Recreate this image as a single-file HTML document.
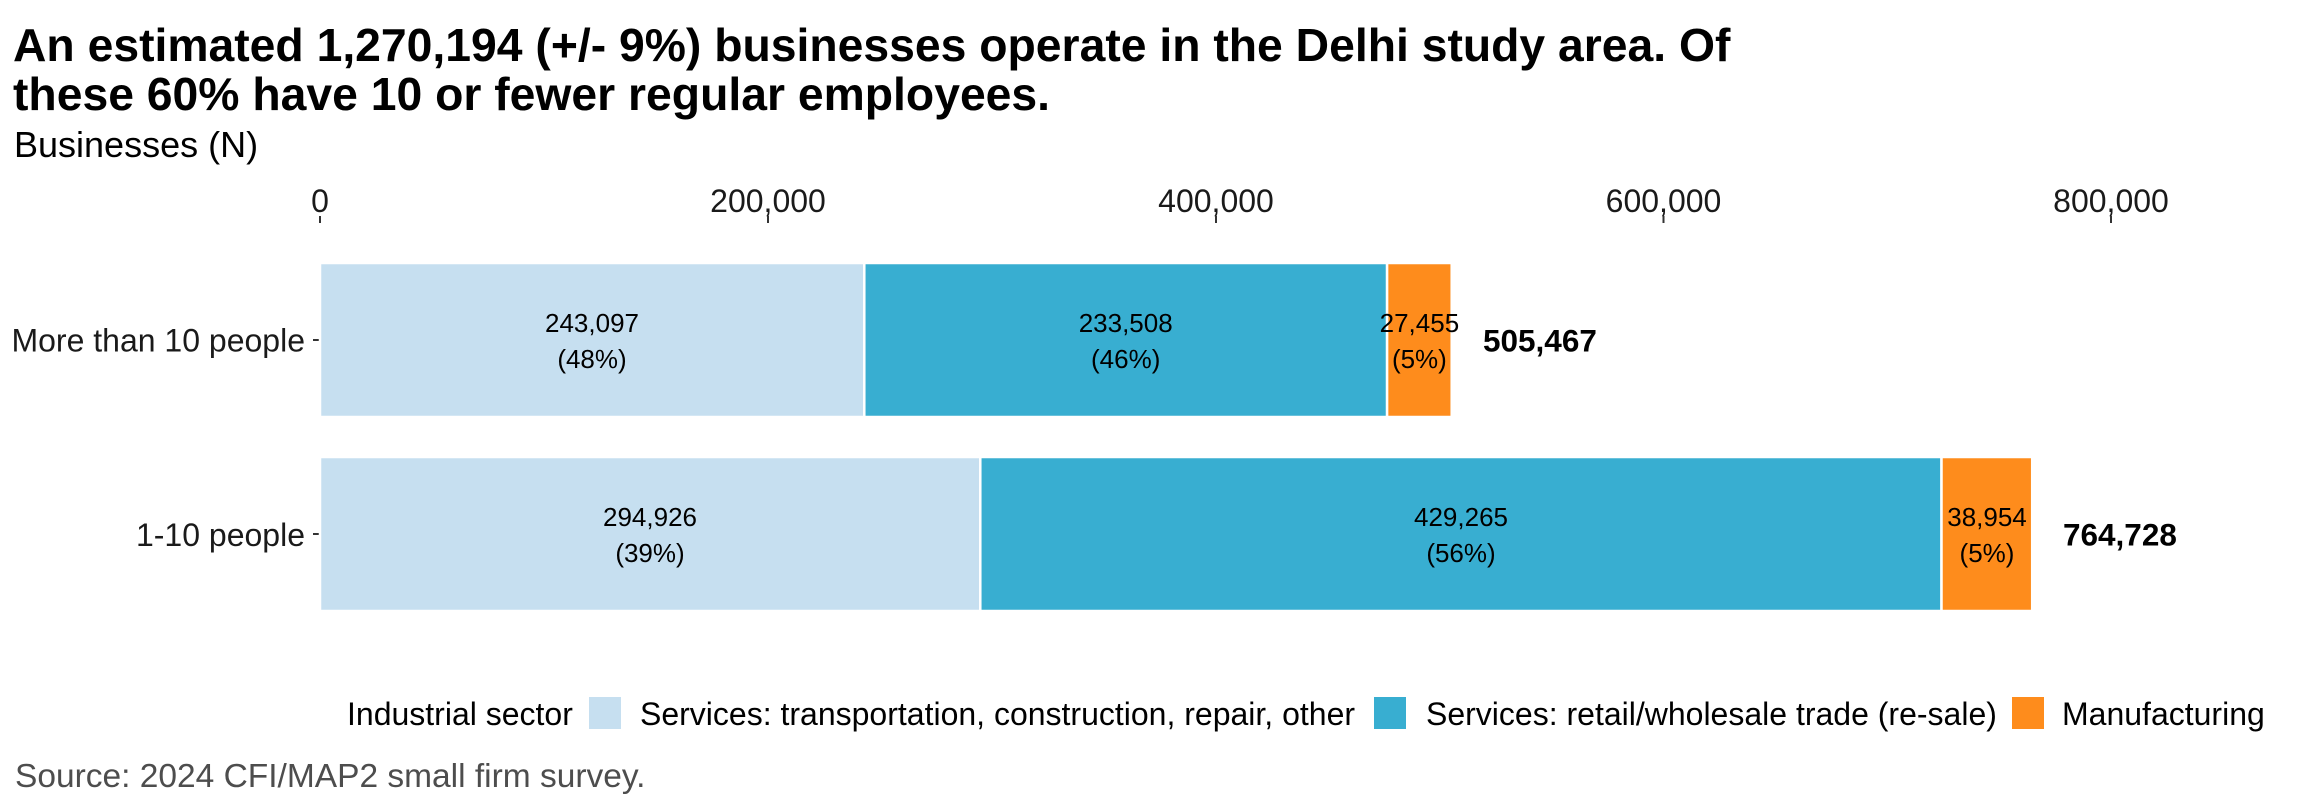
<!DOCTYPE html>
<html>
<head>
<meta charset="utf-8">
<style>
  html, body { margin: 0; padding: 0; background: #ffffff; }
  svg { display: block; }
  text { font-family: "Liberation Sans", Arial, sans-serif; }
</style>
</head>
<body>
<svg width="2304" height="806" viewBox="0 0 2304 806" xmlns="http://www.w3.org/2000/svg">
  <rect x="0" y="0" width="2304" height="806" fill="#ffffff"/>

  <!-- Title -->
  <text x="13" y="61" font-size="46.3" font-weight="bold" fill="#000">An estimated 1,270,194 (+/- 9%) businesses operate in the Delhi study area. Of</text>
  <text x="13" y="110" font-size="46.3" font-weight="bold" fill="#000">these 60% have 10 or fewer regular employees.</text>

  <!-- Subtitle / axis title -->
  <text x="14" y="157" font-size="36" fill="#000">Businesses (N)</text>

  <!-- X axis tick labels -->
  <g font-size="32" fill="#1a1a1a" text-anchor="middle">
    <text x="320" y="212">0</text>
    <text x="768" y="212">200,000</text>
    <text x="1216" y="212">400,000</text>
    <text x="1663.5" y="212">600,000</text>
    <text x="2111" y="212">800,000</text>
  </g>
  <!-- X ticks -->
  <g stroke="#333333" stroke-width="2">
    <line x1="320" y1="216" x2="320" y2="223"/>
    <line x1="768" y1="216" x2="768" y2="223"/>
    <line x1="1216" y1="216" x2="1216" y2="223"/>
    <line x1="1663.5" y1="216" x2="1663.5" y2="223"/>
    <line x1="2111" y1="216" x2="2111" y2="223"/>
  </g>

  <!-- Y axis labels and ticks -->
  <g font-size="32" fill="#1a1a1a" text-anchor="end">
    <text x="305" y="351.5">More than 10 people</text>
    <text x="305" y="546">1-10 people</text>
  </g>
  <g stroke="#333333" stroke-width="2">
    <line x1="313" y1="340" x2="320" y2="340"/>
    <line x1="313" y1="534" x2="320" y2="534"/>
  </g>

  <!-- Bar 1: More than 10 people -->
  <g stroke="#ffffff" stroke-width="2.5">
    <rect x="320" y="263" width="544.3" height="154" fill="#c6dff0"/>
    <rect x="864.3" y="263" width="522.8" height="154" fill="#38aed1"/>
    <rect x="1387.1" y="263" width="64.6" height="154" fill="#fe8c1c"/>
  </g>
  <!-- Bar 2: 1-10 people -->
  <g stroke="#ffffff" stroke-width="2.5">
    <rect x="320" y="457" width="660.3" height="154" fill="#c6dff0"/>
    <rect x="980.3" y="457" width="961.2" height="154" fill="#38aed1"/>
    <rect x="1941.5" y="457" width="90.7" height="154" fill="#fe8c1c"/>
  </g>

  <!-- Segment labels -->
  <g font-size="26" fill="#000" text-anchor="middle">
    <text x="592" y="332">243,097</text>
    <text x="592" y="368">(48%)</text>
    <text x="1125.7" y="332">233,508</text>
    <text x="1125.7" y="368">(46%)</text>
    <text x="1419.4" y="332">27,455</text>
    <text x="1419.4" y="368">(5%)</text>

    <text x="650" y="526">294,926</text>
    <text x="650" y="562">(39%)</text>
    <text x="1461" y="526">429,265</text>
    <text x="1461" y="562">(56%)</text>
    <text x="1987" y="526">38,954</text>
    <text x="1987" y="562">(5%)</text>
  </g>

  <!-- Totals -->
  <g font-size="31.5" font-weight="bold" fill="#000">
    <text x="1483" y="351.5">505,467</text>
    <text x="2063" y="545.5">764,728</text>
  </g>

  <!-- Legend -->
  <g font-size="32" fill="#000">
    <text x="347" y="725">Industrial sector</text>
    <rect x="589" y="697" width="32" height="32" fill="#c6dff0"/>
    <text x="640" y="725">Services: transportation, construction, repair, other</text>
    <rect x="1374" y="697" width="32" height="32" fill="#38aed1"/>
    <text x="1426" y="725">Services: retail/wholesale trade (re-sale)</text>
    <rect x="2012" y="697" width="32" height="32" fill="#fe8c1c"/>
    <text x="2062" y="725">Manufacturing</text>
  </g>

  <!-- Caption -->
  <text x="15" y="787" font-size="33.5" fill="#4d4d4d">Source: 2024 CFI/MAP2 small firm survey.</text>
</svg>
</body>
</html>
